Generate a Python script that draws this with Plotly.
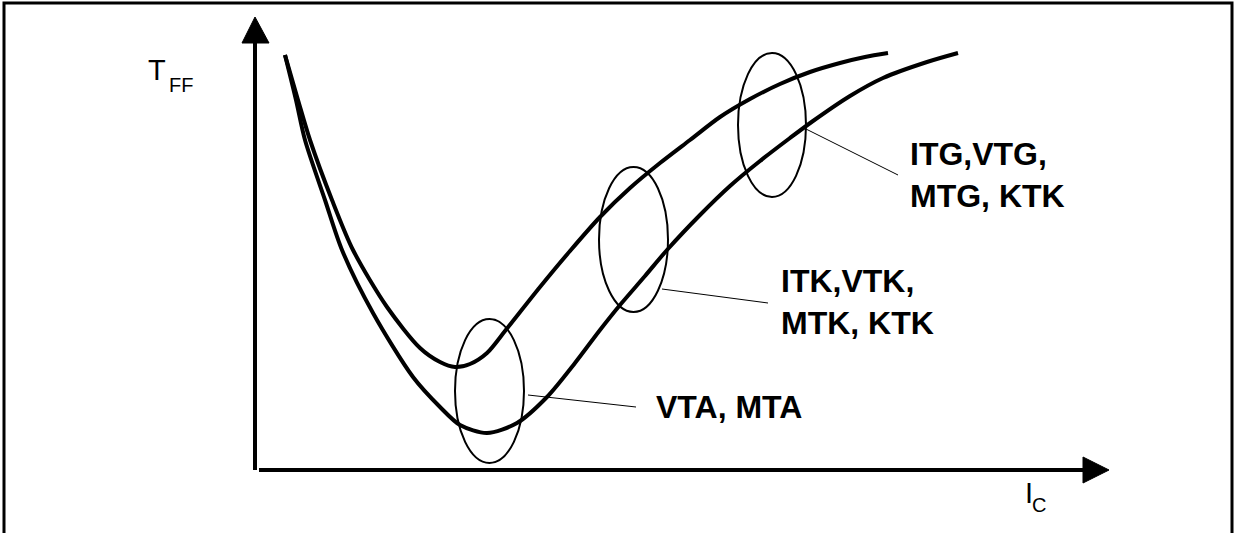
import plotly.graph_objects as go

# ---- data (arbitrary units: x = I_C, y = T_FF; origin at the axis crossing) ----
upper_x = [28, 41, 53, 75, 96, 130, 163, 183, 198, 213, 230, 248, 283, 313, 343, 373, 403, 433,
           463, 493, 523, 553, 583, 608, 631]
upper_y = [415, 370, 330, 270, 220, 163, 122, 108, 103, 106, 117, 139, 183, 219, 253, 282, 307, 330,
           353, 371, 386, 398, 407, 413, 417]

lower_x = [28, 39, 48, 68, 85, 116, 156, 183, 203, 230, 260, 290, 318, 343, 363, 388, 410, 443,
           473, 503, 533, 556, 593, 626, 670, 701]
lower_y = [415, 370, 330, 270, 220, 157, 93, 63, 45, 37, 47, 73, 107, 140, 165, 194, 220, 255,
           284, 309, 332, 349, 374, 392, 408, 417]

# groups circled on the curves: (x0, x1, y0, y1)
group_x0 = [198, 342, 481]
group_x1 = [267, 411, 549]
group_y0 = [7, 158, 273]
group_y1 = [151, 303, 417]
group_labels = ["VTA, MTA", "ITK,VTK,<br>MTK, KTK", "ITG,VTG,<br>MTG, KTK"]

# axis titles: main letter + subscript
y_title = ("T", "FF")
x_title = ("I", "C")

# ---- layout constants ----
W, H = 1234, 533
X_RANGE = [-257, 977]
Y_RANGE = [-63, 470]

leader_start = [(271, 75), (405, 181), (549, 341)]
leader_end = [(379, 63), (511, 167), (641, 295)]
label_pos = [(397, 63), (522, 168), (651, 295)]

FONT = "Liberation Sans, Arial, sans-serif"

fig = go.Figure()

for xs, ys in ((upper_x, upper_y), (lower_x, lower_y)):
    fig.add_trace(go.Scatter(x=xs, y=ys, mode="lines",
                             line=dict(color="black", width=4, shape="spline", smoothing=0.8),
                             hoverinfo="skip", showlegend=False))

shapes = []
# border frame
shapes.append(dict(type="rect", xref="x", yref="y", x0=-253, x1=975, y0=-75, y1=467,
                   line=dict(color="black", width=3), fillcolor="rgba(0,0,0,0)", layer="below"))
# axes
shapes.append(dict(type="line", xref="x", yref="y", x0=-2, x1=-2, y0=0, y1=428,
                   line=dict(color="black", width=4)))
shapes.append(dict(type="line", xref="x", yref="y", x0=2, x1=827, y0=0, y1=0,
                   line=dict(color="black", width=4)))
shapes.append(dict(type="path", xref="x", yref="y",
                   path="M -2 453 L -15 427 L 12 427 Z",
                   fillcolor="black", line=dict(color="black", width=1)))
shapes.append(dict(type="path", xref="x", yref="y",
                   path="M 852 0 L 826 13 L 826 -13 Z",
                   fillcolor="black", line=dict(color="black", width=1)))
# ellipses
for x0, x1, y0, y1 in zip(group_x0, group_x1, group_y0, group_y1):
    shapes.append(dict(type="circle", xref="x", yref="y", x0=x0, x1=x1, y0=y0, y1=y1,
                       line=dict(color="black", width=2), fillcolor="rgba(0,0,0,0)"))
# leader lines
for (sx, sy), (ex, ey) in zip(leader_start, leader_end):
    shapes.append(dict(type="line", xref="x", yref="y", x0=sx, y0=sy, x1=ex, y1=ey,
                       line=dict(color="black", width=1)))

annotations = []
for (lx, ly), txt in zip(label_pos, group_labels):
    annotations.append(dict(x=lx, y=ly, xref="x", yref="y", text="<b>" + txt + "</b>",
                            showarrow=False, xanchor="left", yanchor="middle", align="left",
                            font=dict(family=FONT, size=32, color="black")))


def add_title(main, sub, x_main, y_main, x_sub, y_sub):
    annotations.append(dict(x=x_main, y=y_main, xref="x", yref="y", text=main,
                            showarrow=False, xanchor="left", yanchor="middle",
                            font=dict(family=FONT, size=29, color="black")))
    annotations.append(dict(x=x_sub, y=y_sub, xref="x", yref="y", text=sub,
                            showarrow=False, xanchor="left", yanchor="middle",
                            font=dict(family=FONT, size=20, color="black")))


add_title(y_title[0], y_title[1], -111, 400, -90, 385)
add_title(x_title[0], x_title[1], 766, -23, 773, -35)

fig.update_layout(
    width=W, height=H, autosize=False,
    margin=dict(l=0, r=0, t=0, b=0),
    paper_bgcolor="white", plot_bgcolor="white",
    xaxis=dict(range=X_RANGE, visible=False, fixedrange=True),
    yaxis=dict(range=Y_RANGE, visible=False, fixedrange=True),
    shapes=shapes, annotations=annotations,
    showlegend=False,
)

fig.write_html("out.html", config={"displayModeBar": False},
               post_script="document.body.style.margin='0px';document.body.style.overflow='hidden';")
